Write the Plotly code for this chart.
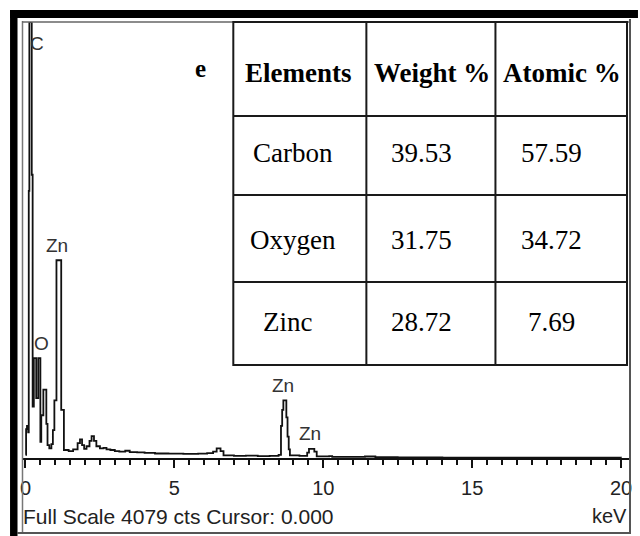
import plotly.graph_objects as go

# EDS spectrum (step trace): channel start energy (keV) and counts
energy_kev = [0.00, 0.02, 0.05, 0.09, 0.11, 0.13, 0.21, 0.24, 0.28, 0.36,
              0.43, 0.50, 0.53, 0.60, 0.70, 0.74, 0.80, 0.87, 0.92, 0.97,
              1.04, 1.20, 1.29, 1.45, 1.60, 1.75, 1.83, 1.90, 1.97, 2.05,
              2.15, 2.22, 2.30, 2.38, 2.50, 2.62, 2.72, 2.85, 3.00, 3.15,
              3.35, 3.50, 3.75, 4.00, 4.35, 4.80, 5.30, 5.80, 6.10, 6.30,
              6.42, 6.55, 6.65, 7.00, 7.40, 7.80, 8.20, 8.50, 8.58, 8.62,
              8.66, 8.76, 8.80, 8.84, 8.88, 9.20, 9.46, 9.52, 9.70, 9.78,
              10.20, 10.30, 11.40, 11.75, 12.50, 14.00, 16.00, 18.00, 20.00]
counts = [30, 270, 300, 240, 2500, 4079, 2650, 480, 935, 560,
          935, 150, 400, 640, 320, 120, 90, 130, 260, 540,
          1850, 450, 75, 65, 80, 140, 175, 120, 85, 110,
          160, 205, 160, 110, 90, 95, 80, 75, 65, 60,
          68, 55, 52, 48, 42, 40, 38, 40, 45, 60,
          90, 65, 25, 20, 22, 18, 20, 30, 300, 450,
          540, 380, 200, 80, 25, 20, 50, 85, 60, 15,
          18, 10, 14, 8, 5, 4, 3, 3, 2]
full_scale = 4079

# peak identification labels
peak_labels = ["C", "O", "Zn", "Zn", "Zn"]
label_kev = [0.39, 0.55, 1.05, 8.65, 9.55]
label_cts = [3880, 1075, 1990, 680, 225]

x_ticks = [0, 5, 10, 15, 20]

# composition table
headers = ["Elements", "Weight %", "Atomic %"]
elements = ["Carbon", "Oxygen", "Zinc"]
weight_pct = ["39.53", "31.75", "28.72"]
atomic_pct = ["57.59", "34.72", "7.69"]

W, H = 640, 536
L, R, T, B = 22, 632, 22, 458  # plot area in pixels


def px(x):
    return (x - L) / (R - L)


def py(y):
    return (B - y) / (B - T)


kev_per_px = 20 / (623 - 25.5)
x_lo = -(25.5 - L) * kev_per_px
x_hi = x_lo + (R - L) * kev_per_px

fig = go.Figure()
fig.add_trace(go.Scatter(
    x=energy_kev, y=counts, mode="lines", line_shape="hv",
    line=dict(color="#111111", width=1.8), hoverinfo="skip", showlegend=False,
))

shapes = []


def rect(x0, y0, x1, y1, fill=None, line_color=None, lw=0):
    shapes.append(dict(type="rect", xref="paper", yref="paper",
                       x0=px(x0), x1=px(x1), y0=py(y1), y1=py(y0),
                       fillcolor=fill or "rgba(0,0,0,0)",
                       line=dict(color=line_color or "rgba(0,0,0,0)", width=lw),
                       layer="above"))


def hline(x0, x1, y, color, lw):
    shapes.append(dict(type="line", xref="paper", yref="paper",
                       x0=px(x0), x1=px(x1), y0=py(y), y1=py(y),
                       line=dict(color=color, width=lw), layer="above"))


def vline(x, y0, y1, color, lw):
    shapes.append(dict(type="line", xref="paper", yref="paper",
                       x0=px(x), x1=px(x), y0=py(y0), y1=py(y1),
                       line=dict(color=color, width=lw), layer="above"))


# outer frame: heavy black bars at left and top, thin lines elsewhere
rect(10, 10, 17.5, 536, fill="#000000")
rect(10, 10, 640, 18, fill="#000000")
vline(22.5, 21, 533, "#777777", 1.5)
hline(22, 632, 22, "#666666", 1.5)
vline(632, 19, 534, "#555555", 2)
hline(17, 633, 533, "#555555", 2)

# composition table grid
tx = [234, 367.5, 497, 629]
ty = [22, 116, 195, 282, 365]
rect(tx[0], ty[0], tx[-1], ty[-1], fill="#ffffff", line_color="#1a1a1a", lw=2)
for x in tx[1:-1]:
    vline(x, ty[0], ty[-1], "#1a1a1a", 2)
for y in ty[1:-1]:
    hline(tx[0], tx[-1], y, "#1a1a1a", 2)

annotations = []


def text(x, y, s, size, family, color="#000000", bold=False, xanchor="center"):
    annotations.append(dict(
        xref="paper", yref="paper", x=px(x), y=py(y), text=f"<b>{s}</b>" if bold else s,
        showarrow=False, xanchor=xanchor, yanchor="middle",
        font=dict(size=size, family=family, color=color)))


serif = "Liberation Serif, Times New Roman, serif"
sans = "Liberation Sans, Arial, sans-serif"

header_cx = [299, 433, 564]
for cx, h in zip(header_cx, headers):
    text(cx, 73, h, 27, serif, bold=True)

col_cx = [294, 423, 553]
row_cy = [153, 240, 322]
for i, cy in enumerate(row_cy):
    text(col_cx[0] - (6 if i == 2 else 0), cy, elements[i], 27, serif)
    text(col_cx[1], cy, weight_pct[i], 27, serif)
    text(col_cx[2], cy, atomic_pct[i], 27, serif)

text(201, 68, "e", 25, serif, bold=True)

# peak labels on the spectrum
for lab, k, c in zip(peak_labels, label_kev, label_cts):
    annotations.append(dict(x=k, y=c, xref="x", yref="y", text=lab, showarrow=False,
                            xanchor="center", yanchor="middle",
                            font=dict(size=19, family=sans, color="#333333")))

# status line under the axis
text(21, 516, f"Full Scale {full_scale} cts Cursor: 0.000", 21, sans, color="#222222",
     xanchor="left")
text(631, 516, "keV", 20, sans, color="#222222", xanchor="right")

fig.update_layout(
    width=W, height=H, autosize=False,
    margin=dict(l=L, r=W - R, t=T, b=H - B, pad=0),
    paper_bgcolor="#ffffff", plot_bgcolor="#ffffff",
    shapes=shapes, annotations=annotations,
    xaxis=dict(range=[x_lo, x_hi], tickvals=x_ticks, ticktext=[str(v) for v in x_ticks],
               ticks="outside", ticklen=8, tickwidth=1.5, tickcolor="#111111",
               minor=dict(dtick=0.5, tick0=0, ticks="outside", ticklen=5,
                          tickwidth=1.5, tickcolor="#111111"),
               showline=True, linecolor="#111111", linewidth=2,
               showgrid=False, zeroline=False,
               tickfont=dict(size=20, family=sans, color="#222222"),
               ticklabelstandoff=3, fixedrange=True),
    yaxis=dict(range=[0, full_scale], visible=False, fixedrange=True),
)

fig.write_html("out.html")
